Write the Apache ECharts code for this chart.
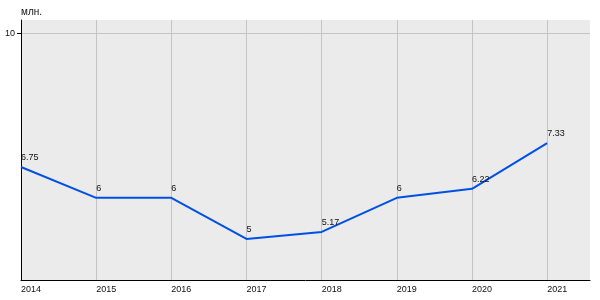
<!DOCTYPE html>
<html><head><meta charset="utf-8">
<script src="https://cdn.jsdelivr.net/npm/echarts@6/dist/echarts.min.js"></script>
<style>html,body{margin:0;padding:0;background:#fff}#c{width:600px;height:300px}</style>
</head><body><div id="c"></div>
<script>
const years = [2014, 2015, 2016, 2017, 2018, 2019, 2020, 2021];
const values = [6.75, 6, 6, 5, 5.17, 6, 6.22, 7.33];
const yTicks = [10];
const unitLabel = 'млн.';

const chart = echarts.init(document.getElementById('c'), null, {renderer: 'canvas'});
const font = {fontFamily: 'Liberation Sans, Arial, sans-serif', fontSize: 9, color: '#111'};
chart.setOption({
  animation: false,
  backgroundColor: '#fff',
  grid: {left: 21, right: 10, top: 20, bottom: 20, show: true, backgroundColor: '#ebebeb', borderWidth: 0},
  xAxis: {
    type: 'value', min: 2014, max: 2021.57, interval: 1,
    axisLine: {show: true, onZero: false, lineStyle: {color: '#000', width: 1}},
    axisTick: {show: false, customValues: years},
    axisLabel: Object.assign({customValues: years, formatter: v => String(v), align: 'left', margin: 5}, font),
    splitLine: {show: true, lineStyle: {color: '#c4c4c4', width: 1}}
  },
  yAxis: {
    type: 'value', min: 4, max: 10.33, interval: 1,
    name: unitLabel, nameLocation: 'end', nameGap: 3,
    nameTextStyle: Object.assign({align: 'left', padding: [0, 0, 0, 0]}, font, {fontSize: 10}),
    axisLine: {show: true, lineStyle: {color: '#000', width: 1}},
    axisTick: {show: true, length: 4, customValues: yTicks, lineStyle: {color: '#000'}},
    axisLabel: Object.assign({customValues: yTicks, margin: 6}, font),
    splitLine: {show: true, lineStyle: {color: '#c4c4c4', width: 1}}
  },
  series: [{
    type: 'line',
    data: years.map((y, i) => [y, values[i]]),
    showSymbol: true, symbol: 'circle', symbolSize: 2,
    itemStyle: {color: 'rgba(0,0,0,0)', borderWidth: 0},
    lineStyle: {color: '#0050e6', width: 2},
    label: Object.assign({show: true, position: 'top', align: 'left', distance: 4, offset: [-1, 0],
      formatter: p => String(p.value[1])}, font),
    labelLayout: {hideOverlap: false}
  }]
});
</script></body></html>
